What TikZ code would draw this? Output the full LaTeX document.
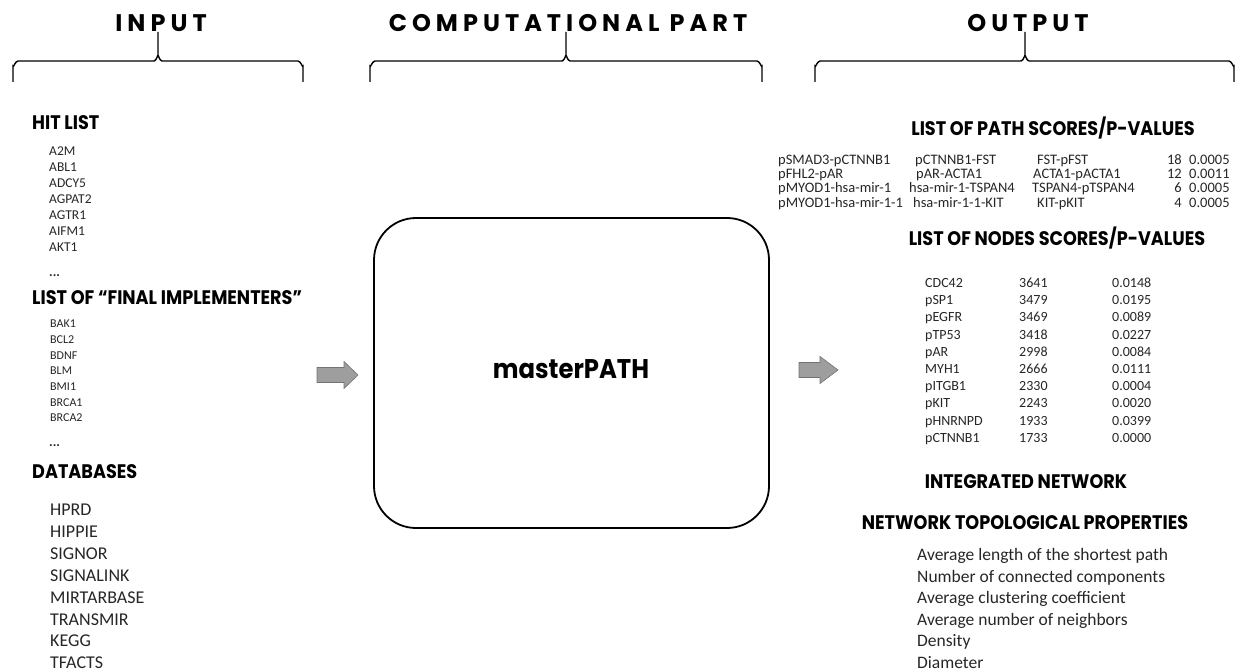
\documentclass[tikz,border=0pt]{standalone}
\usepackage{fontspec}
\setmainfont{Carlito}
\newfontfamily\headfont{Poppins}[FakeStretch=0.9]
\newfontfamily\titlefont{Poppins}[LetterSpace=21]
\begin{document}
\begin{tikzpicture}[x=1pt,y=-1pt]
\tikzset{
  bracket/.style={line width=1.4pt, black},
  ttl/.style={font=\titlefont\bfseries\fontsize{24}{26}\selectfont, inner sep=0pt, anchor=center},
  head/.style={font=\headfont\bfseries\fontsize{19.6}{22}\selectfont, inner sep=0pt},
  itemA/.style={font=\fontsize{13.5}{16}\selectfont, inner sep=0pt, anchor=base west, text=black!85},
  itemB/.style={font=\fontsize{12}{14}\selectfont, inner sep=0pt, anchor=base west, text=black!85},
  itemC/.style={font=\fontsize{18}{21}\selectfont, inner sep=0pt, anchor=base west, text=black!85},
  cell/.style={font=\fontsize{14}{16}\selectfont, inner sep=0pt, anchor=base west, text=black!85},
  pcell/.style={font=\fontsize{14.5}{16}\selectfont, inner sep=0pt, anchor=base west, text=black!85},
  pcellr/.style={font=\fontsize{14.5}{16}\selectfont, inner sep=0pt, anchor=base east, text=black!85},
  blockarrow/.style={fill=black!38, draw=black!55, line width=0.6pt},
}
\useasboundingbox (0,0) rectangle (1236,671);

% ---------- titles ----------
\node[ttl] (tin) at (161,23) {INPUT};
\node[ttl] (tcomp) at (568,23) {COMPUTATIONAL PART};
\node[ttl] (tout) at (1028,23) {OUTPUT};

% ---------- brackets ----------
\foreach \l/\m/\r in {13/158/303, 370/566/762, 815/1025/1234}{
  \draw[bracket] (\l,82) -- (\l,66) to[out=-90,in=180] (\l+5,61) -- (\m-4,61)
     to[out=0,in=90] (\m,56) -- (\m,32) -- (\m,56) to[out=90,in=180] (\m+4,61)
     -- (\r-5,61) to[out=0,in=-90] (\r,66) -- (\r,82);
}

% ---------- input ----------
\node[head, anchor=west] (hhit) at (32,123) {HIT LIST};
\foreach \t [count=\i from 0] in {A2M,ABL1,ADCY5,AGPAT2,AGTR1,AIFM1,AKT1}
  \node[itemA] (hit\i) at (49,{155.3+\i*16}) {\t};
\node[itemA] (hitdots) at (49,276) {\textbf{...}};

\node[head, anchor=west] (hfin) at (32,298) {LIST OF “FINAL IMPLEMENTERS”};
\foreach \t [count=\i from 0] in {BAK1,BCL2,BDNF,BLM,BMI1,BRCA1,BRCA2}
  \node[itemB] (fin\i) at (50,{327.8+\i*15.67}) {\t};
\node[itemA] (findots) at (49,446) {\textbf{...}};

\node[head, anchor=west] (hdb) at (32,472) {DATABASES};
\foreach \t [count=\i from 0] in {HPRD,HIPPIE,SIGNOR,SIGNALINK,MIRTARBASE,TRANSMIR,KEGG,TFACTS}
  \node[itemC] (db\i) at (50,{515.7+\i*21.86}) {\t};

% ---------- computational part ----------
\node[draw, line width=1.8pt, rounded corners=42pt, minimum width=395pt, minimum height=310pt] (master) at (571.5,373) {};
\node[font=\headfont\bfseries\fontsize{27}{30}\selectfont, inner sep=0pt] (mastertext) at (571,369) {masterPATH};

\draw[blockarrow] (317,367.5) -- (344,367.5) -- (344,361.5) -- (358,375) -- (344,388.5) -- (344,382.5) -- (317,382.5) -- cycle;
\draw[blockarrow] (799,362.5) -- (820,362.5) -- (820,356.5) -- (838,370) -- (820,383.5) -- (820,377.5) -- (799,377.5) -- cycle;

% ---------- output ----------
\node[head] (hpath) at (1053,128) {LIST OF PATH SCORES/P-VALUES};
\foreach \a/\b/\bx/\c/\cx/\n/\p [count=\i from 0] in {
  pSMAD3-pCTNNB1/pCTNNB1-FST/915/FST-pFST/1037/18/0.0005,
  pFHL2-pAR/pAR-ACTA1/916/ACTA1-pACTA1/1033/12/0.0011,
  pMYOD1-hsa-mir-1/hsa-mir-1-TSPAN4/909/TSPAN4-pTSPAN4/1032/6/0.0005,
  pMYOD1-hsa-mir-1-1/hsa-mir-1-1-KIT/913/KIT-pKIT/1037/4/0.0005}{
  \node[pcell] (pa\i) at (778,{164.6+\i*14.2}) {\a};
  \node[pcell] (pb\i) at (\bx,{164.6+\i*14.2}) {\b};
  \node[pcell] (pc\i) at (\cx,{164.6+\i*14.2}) {\c};
  \node[pcellr] (pn\i) at (1182,{164.6+\i*14.2}) {\n};
  \node[pcell] (pp\i) at (1189,{164.6+\i*14.2}) {\p};
}

\node[head] (hnodes) at (1057,238) {LIST OF NODES SCORES/P-VALUES};
\foreach \a/\b/\c [count=\i from 0] in {
  CDC42/3641/0.0148, pSP1/3479/0.0195, pEGFR/3469/0.0089, pTP53/3418/0.0227,
  pAR/2998/0.0084, MYH1/2666/0.0111, pITGB1/2330/0.0004, pKIT/2243/0.0020,
  pHNRNPD/1933/0.0399, pCTNNB1/1733/0.0000}{
  \node[cell] (na\i) at (925,{287.4+\i*17.2}) {\a};
  \node[cell] (nb\i) at (1019,{287.4+\i*17.2}) {\b};
  \node[cell] (nc\i) at (1112,{287.4+\i*17.2}) {\c};
}

\node[head] (hint) at (1026,482) {INTEGRATED NETWORK};
\node[head] (htop) at (1025,523) {NETWORK TOPOLOGICAL PROPERTIES};
\foreach \t [count=\i from 0] in {Average length of the shortest path, Number of connected components,
  Average clustering coefficient, Average number of neighbors, Density, Diameter}
  \node[itemC, font=\fontsize{17.5}{20}\selectfont] (tp\i) at (917,{560.5+\i*21.6}) {\t};
\end{tikzpicture}
\end{document}
